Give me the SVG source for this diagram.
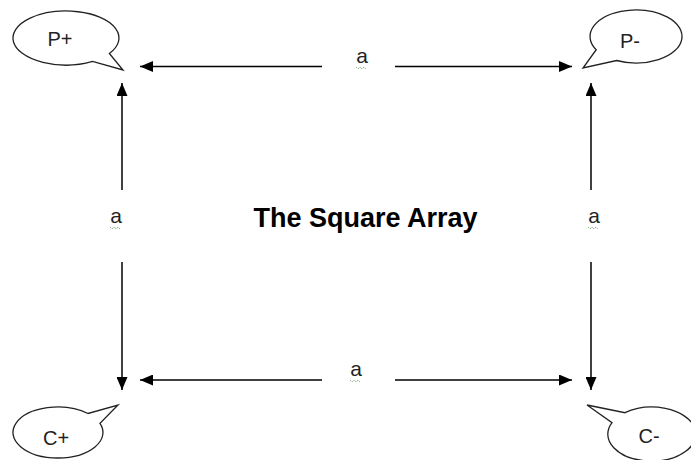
<svg xmlns="http://www.w3.org/2000/svg" width="691" height="460" viewBox="0 0 691 460">
<defs>
<marker id="ah" viewBox="0 0 13 11" refX="13" refY="5.5" markerWidth="13" markerHeight="11" markerUnits="userSpaceOnUse" orient="auto">
<path d="M0,0 L13,5.5 L0,11 Z" fill="#000"/>
</marker>
</defs>
<style>
.cl{fill:#fff;stroke:#222;stroke-width:1.3;stroke-linejoin:miter}
.lb{font-family:"Liberation Sans",Arial,sans-serif;font-size:20px;fill:#222}
.ln{stroke:#000;stroke-width:1.5;fill:none}
.a{font-family:"Liberation Sans",Arial,sans-serif;font-size:21px;fill:#222}
.sq{stroke:#7fb37f;stroke-width:1;fill:none;stroke-dasharray:1.5 1}
.t{font-family:"Liberation Sans",Arial,sans-serif;font-size:27px;font-weight:bold;fill:#000}
</style>
<rect width="691" height="460" fill="#fff"/>
<g id="Pplus">
<path class="cl" d="M109.4,53.5 A53,27 0 1 0 92.5,61.4 L123,70 Z"/>
<text class="lb" x="60" y="46" text-anchor="middle">P+</text>
</g>
<g id="Pminus">
<path class="cl" d="M616.6,60.5 A46,26.5 0 1 0 596.2,49.75 L583,68 Z"/>
<text class="lb" x="630" y="48" text-anchor="middle">P-</text>
</g>
<g id="Cplus">
<path class="cl" d="M88,413.5 A45,25.5 0 1 0 100,423.4 L118,405 Z"/>
<text class="lb" x="56" y="445" text-anchor="middle">C+</text>
</g>
<g id="Cminus">
<path class="cl" d="M612,422.6 A44,27 0 1 0 625,412.7 L587,405 Z"/>
<text class="lb" x="649" y="443" text-anchor="middle">C-</text>
</g>
<g id="title">
<text class="t" x="365.5" y="227" text-anchor="middle">The Square Array</text>
</g>
<g id="connectors">
<line class="ln" x1="322" y1="66.5" x2="140" y2="66.5" marker-end="url(#ah)"/>
<line class="ln" x1="395" y1="66.5" x2="572" y2="66.5" marker-end="url(#ah)"/>
<line class="ln" x1="322" y1="380" x2="140" y2="380" marker-end="url(#ah)"/>
<line class="ln" x1="395" y1="380" x2="572" y2="380" marker-end="url(#ah)"/>
<line class="ln" x1="122" y1="190" x2="122" y2="83" marker-end="url(#ah)"/>
<line class="ln" x1="122" y1="262" x2="122" y2="390" marker-end="url(#ah)"/>
<line class="ln" x1="591" y1="190" x2="591" y2="83" marker-end="url(#ah)"/>
<line class="ln" x1="591" y1="262" x2="591" y2="390" marker-end="url(#ah)"/>
<text class="a" x="362" y="63" text-anchor="middle">a</text>
<text class="a" x="356" y="376" text-anchor="middle">a</text>
<text class="a" x="116" y="223" text-anchor="middle">a</text>
<text class="a" x="594" y="223" text-anchor="middle">a</text>
<path class="sq" d="M356,67 l2,2 l2,-2 l2,2 l2,-2 l2,2"/>
<path class="sq" d="M350,380 l2,2 l2,-2 l2,2 l2,-2 l2,2"/>
<path class="sq" d="M110,227 l2,2 l2,-2 l2,2 l2,-2 l2,2"/>
<path class="sq" d="M588,227 l2,2 l2,-2 l2,2 l2,-2 l2,2"/>
</g>
</svg>
